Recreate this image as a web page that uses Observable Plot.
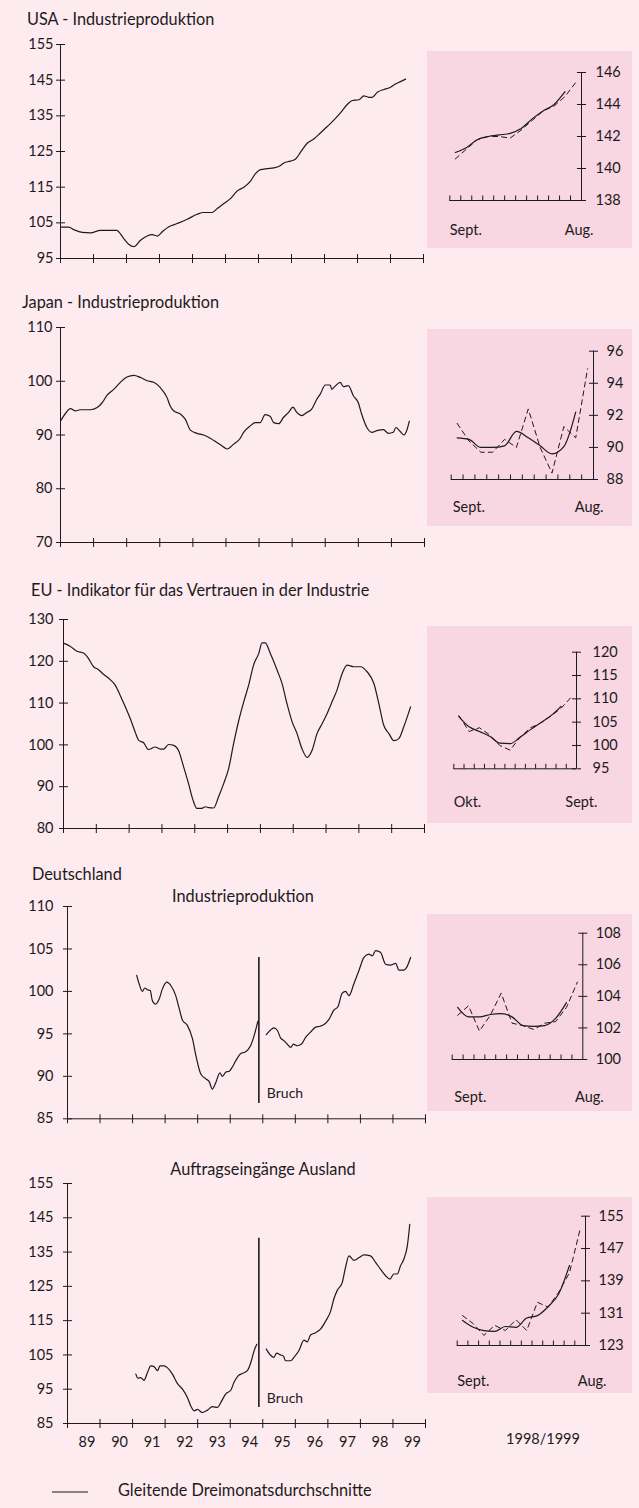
<!DOCTYPE html>
<html><head><meta charset="utf-8">
<script src="https://cdn.jsdelivr.net/npm/d3@7"></script>
<script src="https://cdn.jsdelivr.net/npm/@observablehq/plot@0.6"></script>
<style>
body{margin:0;background:#fdebf0;}
#page{position:relative;width:639px;height:1508px;background:#fdebf0;overflow:hidden}
</style></head><body><div id="page"></div>
<script>
// ---------- data ----------
const yearTicks = [1989,1990,1991,1992,1993,1994,1995,1996,1997,1998,1999,2000];
const yearLabels = ["89","90","91","92","93","94","95","96","97","98","99"];
const monthTicks = [0,1,2,3,4,5,6,7,8,9,10,11];
const bruchYear = 1994.88;

const panelTitles = ["USA - Industrieproduktion","Japan - Industrieproduktion","EU - Indikator für das Vertrauen in der Industrie","Deutschland"];
const subTitles = ["Industrieproduktion","Auftragseingänge Ausland"];
const insetPeriod = "1998/1999";
const legendText = "Gleitende Dreimonatsdurchschnitte";
const bruchText = "Bruch";

// [months since Jan 1989, value] -- three-month moving averages
const usa = [[0.2,103.8],[3,103.8],[4.8,103.1],[7.9,102.3],[10.9,102.2],[14.5,102.9],[18.2,102.9],[20.4,102.9],[23,100.6],[24.8,99.0],[26.7,98.3],[29.1,100.1],[31.5,101.3],[33.3,101.7],[35.2,101.3],[37,102.5],[39.4,103.9],[42.4,104.8],[46.1,106.0],[49.7,107.4],[52.1,107.9],[55.2,107.9],[57,109.0],[59.4,110.4],[61.8,111.8],[64.2,113.9],[66.7,115.0],[69.1,116.7],[70.9,118.8],[72.7,119.9],[75.2,120.2],[77.6,120.4],[80,121.1],[81.2,121.8],[83.6,122.3],[85.5,122.9],[87.3,124.8],[89.7,127.3],[92.1,128.5],[94.5,130.2],[97,132.0],[99.4,133.8],[101.8,135.8],[104.2,138.1],[106.1,139.3],[108.5,139.5],[110.3,140.6],[112.1,140.2],[113.3,140.2],[115.2,141.6],[117.6,142.4],[120,143.0],[121.8,143.9],[123.6,144.6],[125.5,145.3]];
const japan = [[0,92.6],[1.8,94.0],[3.6,94.9],[5.4,94.5],[7.2,94.7],[10.9,94.7],[13.3,95.1],[15.1,96.0],[16.9,97.4],[19.3,98.5],[21.7,99.8],[24.1,100.8],[26.6,101.1],[29.0,100.7],[31.4,100.1],[33.8,99.8],[36.2,98.8],[38.6,97.0],[39.8,95.4],[41.0,94.5],[43.5,93.9],[45.3,92.9],[47.1,90.9],[49.5,90.3],[51.9,90.0],[54.3,89.4],[56.7,88.6],[58.5,88.0],[60.4,87.4],[62.8,88.3],[65.2,89.4],[66.4,90.5],[68.8,91.7],[70.6,92.3],[72.4,92.3],[74.2,93.8],[76.0,93.5],[77.3,92.3],[79.1,92.1],[80.9,93.3],[82.7,94.2],[84.3,95.2],[85.7,94.2],[87.5,93.6],[89.3,94.2],[91.1,94.8],[93.0,96.7],[94.2,97.6],[96.0,99.3],[97.8,99.3],[98.4,98.5],[99.6,99.1],[101.4,99.8],[102.6,99.0],[104.4,99.2],[106.2,97.3],[108.0,96.0],[109.2,93.9],[111.1,91.4],[112.9,90.5],[114.7,90.8],[117.1,91.0],[118.9,90.3],[120.7,90.5],[121.6,91.4],[123.1,90.7],[124.6,90.0],[125.3,90.5],[126.5,92.6]];
const eu = [[0.2,124.3],[2.4,123.6],[4.9,122.4],[7.3,122.0],[9.1,120.7],[11.0,118.7],[12.8,118.0],[14.6,116.9],[17.1,115.6],[18.9,114.3],[20.7,111.9],[22.6,109.1],[24.4,106.3],[26.2,103.1],[27.5,101.1],[29.3,100.5],[31.1,98.9],[33.5,99.5],[35.4,99.0],[36.6,99.0],[38.4,100.1],[40.3,99.9],[42.1,98.6],[43.9,94.8],[45.7,90.8],[47.3,86.9],[48.8,84.8],[50.6,84.8],[51.8,85.2],[53.1,85.0],[54.9,84.9],[56.7,87.6],[58.6,90.8],[60.4,94.4],[62.2,100.3],[64.1,105.9],[65.9,110.3],[67.7,114.3],[69.5,119.1],[71.4,121.9],[72.6,124.4],[73.8,124.4],[75.6,121.9],[78.1,117.9],[79.9,114.7],[81.7,109.9],[83.6,105.5],[85.4,102.7],[87.2,99.1],[89.1,97.0],[90.9,98.7],[92.7,102.7],[94.6,105.1],[96.4,107.5],[98.2,110.3],[100.0,113.1],[101.9,117.1],[103.7,119.1],[106.1,118.7],[108.6,118.7],[111.0,117.5],[113.5,114.7],[115.3,109.9],[117.1,104.7],[119.0,102.7],[120.8,101.0],[122.6,101.5],[124.4,104.3],[126.9,109.1]];
const deProdBefore = [[25.5,101.9],[26.4,100.9],[27.6,100.0],[28.5,100.4],[29.5,100.2],[30.5,100.1],[31.3,98.9],[32.5,98.5],[33.8,99.1],[35.0,100.3],[36.6,101.1],[38.1,100.7],[39.9,99.5],[41.1,98.1],[42.4,96.6],[44.2,96.0],[46.1,94.4],[47.3,92.5],[49.1,90.3],[51.0,89.7],[52.2,89.4],[53.4,88.5],[54.6,89.2],[56.2,90.4],[57.1,90.0],[58.4,90.5],[59.6,90.6],[60.8,91.1],[62.0,91.8],[63.9,92.7],[65.7,92.9],[67.5,93.6],[69.0,95.0],[70.2,96.5]];
const deProdAfter = [[73.3,94.9],[74.7,95.4],[76.1,95.7],[77.4,95.4],[78.6,94.5],[79.8,94.2],[81.0,93.8],[82.3,93.4],[83.3,93.8],[84.7,93.6],[86.3,93.8],[87.8,94.6],[89.6,95.2],[91.5,95.8],[93.1,95.9],[94.6,96.1],[96.4,96.7],[98.2,97.8],[99.7,98.2],[101.3,99.8],[102.5,100.0],[103.8,99.5],[105.6,100.9],[107.5,102.5],[109.3,104.0],[111.1,104.4],[112.4,104.2],[113.6,104.8],[115.4,104.6],[117.3,103.2],[119.1,103.1],[121.0,103.3],[122.2,102.5],[124.0,102.5],[125.0,102.8],[126.5,104.0]];
const deOrdersBefore = [[25.2,99.4],[26.0,98.2],[27.0,98.4],[28.2,97.6],[29.5,99.9],[30.7,101.8],[31.9,101.6],[33.2,100.4],[34.1,101.8],[35.6,101.8],[36.8,101.3],[38.7,99.4],[40.5,96.7],[42.4,95.0],[44.2,92.6],[45.4,90.2],[46.7,88.7],[47.9,89.1],[49.7,88.2],[51.6,88.9],[53.4,89.9],[55.3,89.7],[56.5,91.1],[58.3,93.6],[60.2,94.7],[61.4,97.0],[62.9,98.9],[64.5,99.6],[66.3,100.4],[67.8,103.3],[68.8,106.2],[69.8,108.1]];
const deOrdersAfter = [[73.3,106.7],[74.9,104.9],[76.1,104.3],[77.1,105.5],[78.6,105.0],[79.6,104.7],[80.4,103.3],[82.3,103.3],[83.5,104.3],[85.3,106.2],[87.2,109.3],[88.4,108.8],[89.6,110.8],[91.5,111.5],[93.3,112.5],[95.2,114.9],[97.0,117.7],[98.2,121.3],[99.5,123.9],[101.3,126.1],[102.5,130.5],[103.8,133.9],[105.6,132.6],[107.5,133.4],[109.3,134.2],[111.7,133.9],[113.6,132.0],[115.4,130.0],[117.3,128.1],[118.9,127.1],[120.3,128.6],[121.6,128.6],[122.8,131.0],[124.0,132.9],[125.3,136.8],[126.2,143.1]];

// insets: monthly values (dashed) and 3-month moving averages (solid), Sept 98 .. Aug 99
const usaMonthly = [140.6,141.2,141.8,142.0,142.0,141.9,142.4,143.0,143.6,143.9,144.5,145.4];
const usaAvg     = [141.0,141.3,141.8,142.0,142.1,142.2,142.5,143.1,143.6,144.0,144.8];
const japanMonthly = [91.5,90.4,89.7,89.7,90.5,90.0,92.4,90.0,88.4,91.3,90.6,94.9];
const japanAvg     = [90.6,90.5,90.0,90.0,90.1,91.0,90.6,90.1,89.6,90.05,92.2];
const euMonthly = [106.4,103.0,103.8,102.3,100.0,99.0,101.8,103.8,104.8,106.3,108.0,110.4];
const euAvg     = [106.2,104.0,103.0,102.0,100.5,100.4,101.8,103.4,104.9,106.4,108.4];
const deProdMonthly = [102.8,103.4,101.8,102.8,104.2,102.3,102.15,101.9,102.3,102.4,103.3,104.9];
const deProdAvg     = [103.3,102.7,102.7,102.85,102.9,102.7,102.15,102.1,102.15,102.6,103.6];
const deOrdersMonthly = [130.4,128.4,125.5,128.0,126.7,129.4,126.7,133.7,132.5,136.2,141.0,151.8];
const deOrdersAvg     = [129.2,127.5,126.7,126.5,127.7,127.5,129.8,130.4,132.6,135.8,142.8];

// ---------- drawing ----------
const ink = "#1d1a1c";
const FONT = "Lato, 'Noto Sans', sans-serif";
const FS = 14.5;
const TS = 16.3;
const page = document.getElementById("page");
const hTick = {draw(c){ c.moveTo(-4.5,0); c.lineTo(4.5,0); }};
const vTick = {draw(c){ c.moveTo(0,-4.5); c.lineTo(0,4.5); }};
const upTick = {draw(c){ c.moveTo(0,0); c.lineTo(0,-5); }};

function place(svg, left, top){
  svg.style.position = "absolute"; svg.style.left = left + "px"; svg.style.top = top + "px";
  page.appendChild(svg);
}

function mainPanel(p){
  const mt = 10, mb = p.years ? 34 : 10, W = 434;
  const [ymin, ymax] = p.domain;
  const x0 = yearTicks[0], xEnd = yearTicks[yearTicks.length - 1];
  const toX = d => yearTicks[0] + d[0] / 12;
  const marks = [
    Plot.ruleX([x0], {stroke: ink, strokeWidth: 1}),
    Plot.ruleY([ymin], {stroke: ink, strokeWidth: 1}),
    Plot.dot(p.ticks, {x: () => x0, y: d => d, symbol: hTick, fill: "none", stroke: ink, strokeWidth: 1}),
    Plot.dot(yearTicks, {x: d => d, y: () => ymin, symbol: vTick, fill: "none", stroke: ink, strokeWidth: 1}),
    Plot.axisY(p.ticks, {anchor: "left", tickSize: 0, tickPadding: p.pad, fontSize: FS}),
    ...p.series.map(s => Plot.line(s, {x: toX, y: d => d[1], stroke: ink, strokeWidth: 1.2, curve: "monotone-x"}))
  ];
  if (p.bruch) {
    marks.push(Plot.ruleX([bruchYear], {y1: p.bruch[0], y2: p.bruch[1], stroke: ink, strokeWidth: 1.6}));
    marks.push(Plot.text([bruchText], {x: () => bruchYear, y: () => p.bruch[2], dx: 8, textAnchor: "start", lineAnchor: "bottom", fontSize: 14, fill: ink}));
  }
  if (p.years) {
    marks.push(Plot.text(yearLabels, {x: (d, i) => yearTicks[i] + 0.6, y: () => ymin, dy: 23.5, lineAnchor: "bottom", textAnchor: "middle", fontSize: FS, fill: ink}));
  }
  const svg = Plot.plot({
    width: W, height: (p.yBot - p.yTop) + mt + mb,
    marginTop: mt, marginBottom: mb, marginLeft: p.x0, marginRight: W - p.x1,
    x: {domain: [x0, xEnd], axis: null},
    y: {domain: [ymin, ymax]},
    style: {background: "transparent", color: ink, fontFamily: FONT, fontSize: FS + "px", overflow: "visible"},
    marks
  });
  place(svg, 0, p.yTop - mt);
}

function insetPanel(p){
  const L = 427, R = 632;
  const [ymin, ymax] = p.domain;
  const xAxis = monthTicks.length;
  const svg = Plot.plot({
    width: R - L, height: p.bottom - p.top,
    marginLeft: p.x0 - L, marginRight: R - p.x1, marginTop: p.yTop - p.top, marginBottom: p.bottom - p.yBot,
    x: {domain: [monthTicks[0], xAxis], axis: null},
    y: {domain: [ymin, ymax]},
    style: {background: "#f8d6e2", color: ink, fontFamily: FONT, fontSize: FS + "px", overflow: "visible"},
    marks: [
      Plot.ruleX([xAxis], {stroke: ink, strokeWidth: 1}),
      Plot.ruleY([ymin], {stroke: ink, strokeWidth: 1}),
      Plot.dot(p.ticks, {x: () => xAxis, y: d => d, symbol: hTick, fill: "none", stroke: ink, strokeWidth: 1}),
      Plot.dot(monthTicks, {x: d => d, y: () => ymin, symbol: upTick, fill: "none", stroke: ink, strokeWidth: 1}),
      Plot.axisY(p.ticks, {anchor: "right", tickSize: 0, tickPadding: p.pad, fontSize: FS}),
      Plot.line(p.avg, {x: (d, i) => monthTicks[i] + 0.5, y: d => d, stroke: ink, strokeWidth: 1.2, curve: "monotone-x"}),
      Plot.line(p.monthly, {x: (d, i) => monthTicks[i] + 0.5, y: d => d, stroke: ink, strokeWidth: 1, strokeDasharray: "5,4"}),
      Plot.text([p.labels[0]], {x: () => monthTicks[0], y: () => ymin, dx: p.ldx[0], dy: p.ldy, textAnchor: "start", lineAnchor: "bottom", fontSize: FS, fill: ink}),
      Plot.text([p.labels[1]], {x: () => xAxis, y: () => ymin, dx: p.ldx[1], dy: p.ldy, textAnchor: "end", lineAnchor: "bottom", fontSize: FS, fill: ink})
    ]
  });
  place(svg, L, p.top);
}

// main panels
mainPanel({yTop: 44, yBot: 258, x0: 60, x1: 423, domain: [95,155], ticks: [155,145,135,125,115,105,95], pad: 7, series: [usa]});
mainPanel({yTop: 327, yBot: 542, x0: 60, x1: 424, domain: [70,110], ticks: [110,100,90,80,70], pad: 8, series: [japan]});
mainPanel({yTop: 619.3, yBot: 828.3, x0: 63, x1: 424, domain: [80,130], ticks: [130,120,110,100,90,80], pad: 10, series: [eu]});
mainPanel({yTop: 906, yBot: 1118.3, x0: 67, x1: 425, domain: [85,110], ticks: [110,105,100,95,90,85], pad: 14, series: [deProdBefore, deProdAfter], bruch: [104, 86.8, 87.5]});
mainPanel({yTop: 1182.7, yBot: 1422.7, x0: 67, x1: 425, domain: [85,155], ticks: [155,145,135,125,115,105,95,85], pad: 14, series: [deOrdersBefore, deOrdersAfter], bruch: [139, 89.7, 91.1], years: true});

// insets
insetPanel({top: 51, bottom: 248, x0: 449.3, x1: 581, yTop: 72, yBot: 200, domain: [138,146], ticks: [146,144,142,140,138], pad: 14, avg: usaAvg, monthly: usaMonthly, labels: ["Sept.","Aug."], ldx: [0,12], ldy: 34});
insetPanel({top: 329, bottom: 526, x0: 450.7, x1: 593, yTop: 350.7, yBot: 479, domain: [88,96], ticks: [96,94,92,90,88], pad: 13, avg: japanAvg, monthly: japanMonthly, labels: ["Sept.","Aug."], ldx: [1.6,10], ldy: 32});
insetPanel({top: 626, bottom: 823, x0: 453.3, x1: 576, yTop: 651.7, yBot: 768.3, domain: [95,120], ticks: [120,115,110,105,100,95], pad: 16, avg: euAvg, monthly: euMonthly, labels: ["Okt.","Sept."], ldx: [0,21], ldy: 38});
insetPanel({top: 914, bottom: 1111, x0: 451.7, x1: 582.3, yTop: 932.7, yBot: 1059, domain: [100,108], ticks: [108,106,104,102,100], pad: 13, avg: deProdAvg, monthly: deProdMonthly, labels: ["Sept.","Aug."], ldx: [2,21], ldy: 42});
insetPanel({top: 1197, bottom: 1393, x0: 456.7, x1: 585, yTop: 1215.7, yBot: 1345, domain: [123,155], ticks: [155,147,139,131,123], pad: 13, avg: deOrdersAvg, monthly: deOrdersMonthly, labels: ["Sept.","Aug."], ldx: [0,21], ldy: 40});

// titles, period label and legend
const ov = d3.create("svg").attr("width", 639).attr("height", 1508)
  .style("position", "absolute").style("left", "0px").style("top", "0px")
  .style("font-family", FONT).style("pointer-events", "none");
const txt = (x, y, s, anchor, size) => ov.append("text").attr("x", x).attr("y", y)
  .attr("text-anchor", anchor || "start").attr("font-size", size || TS).attr("fill", ink).text(s);
txt(27, 25, panelTitles[0]);
txt(22, 308, panelTitles[1]);
txt(31, 596, panelTitles[2]);
txt(32, 880, panelTitles[3]);
txt(243, 902, subTitles[0], "middle");
txt(263, 1175, subTitles[1], "middle");
txt(543, 1444, insetPeriod, "middle", FS);
ov.append("line").attr("x1", 52).attr("x2", 88).attr("y1", 1492).attr("y2", 1492).attr("stroke", ink).attr("stroke-width", 1);
txt(118, 1496, legendText);
page.appendChild(ov.node());
</script></body></html>
